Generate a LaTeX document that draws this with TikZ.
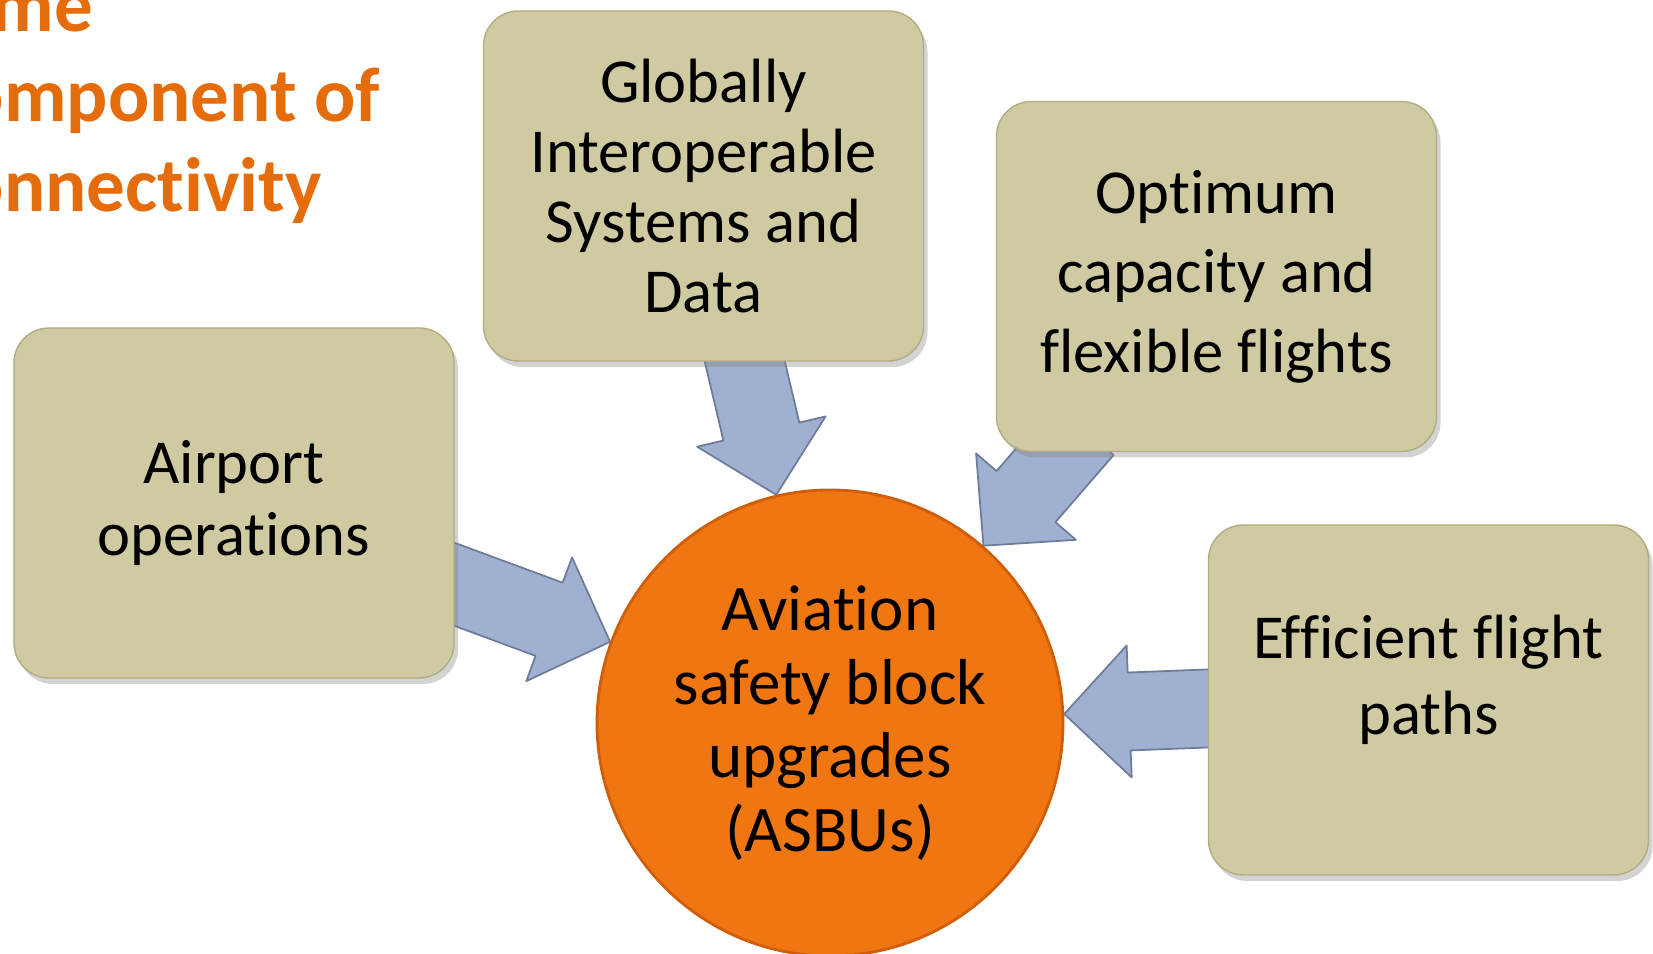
\documentclass[tikz,border=0pt]{standalone}
\usepackage{fontspec}
\setmainfont[Ligatures=NoCommon]{Carlito}
\usetikzlibrary{positioning, calc, shadows, backgrounds}
\definecolor{boxtan}{RGB}{207,202,162}
\definecolor{boxedge}{RGB}{178,172,130}
\definecolor{asbuorange}{RGB}{240,118,18}
\definecolor{asbuedge}{RGB}{208,94,8}
\definecolor{arrowblue}{RGB}{160,176,208}
\definecolor{arrowedge}{RGB}{110,124,155}
\definecolor{titleorange}{RGB}{228,108,10}
\tikzset{
         mybox/.style={draw=boxedge, fill=boxtan, rounded corners=0.35cm, minimum width=4.4cm, minimum height=3.5cm, align=center,
                       drop shadow={shadow xshift=0.04cm, shadow yshift=-0.06cm, opacity=0.35}},
         myhub/.style={circle, draw=asbuedge, line width=0.8pt, fill=asbuorange, minimum size=4.66cm, inner sep=0pt, align=center,
                       font=\fontsize{18.5pt}{20.9pt}\selectfont},
         mytitle/.style={anchor=base west, inner sep=0pt, text=titleorange, font=\fontsize{21.9pt}{25.6pt}\selectfont\bfseries},
         myarrow/.style={draw=arrowedge, fill=arrowblue, line width=0.5pt, line join=round}
      }
\newcommand{\blockarrow}[2]{%
  \coordinate (bs) at ($(#1)!-0.3cm!(#2)$);
  \coordinate (bh) at ($(#2)!0.65cm!(#1)$);
  \draw[myarrow] ($(bs)!0.39cm!90:(#2)$) -- ($(bh)!0.39cm!90:(#2)$) -- ($(bh)!0.66cm!90:(#2)$) -- (#2)
     -- ($(bh)!0.66cm!-90:(#2)$) -- ($(bh)!0.39cm!-90:(#2)$) -- ($(bs)!0.39cm!-90:(#2)$) -- cycle;
}

\begin{document}
\begin{tikzpicture}
   \useasboundingbox (0,0) rectangle (16.53,9.54);
   \clip (0,0) rectangle (16.53,9.54);

   % title, cut at the left edge
   \node[mytitle] (title1) at (-0.09,9.22) {me};
   \node[mytitle] (title2) at (-0.38,8.32) {omponent of};
   \node[mytitle] (title3) at (-0.38,7.42) {onnectivity};

   \node[mybox, font=\fontsize{17.8pt}{20.5pt}\selectfont] (airport) at (2.34,4.51) {Airport\\operations};
   \node[mybox, font=\fontsize{17.8pt}{19.9pt}\selectfont] (globally) at (7.035,7.68) {Globally\\Interoperable\\Systems and\\Data};
   \node[mybox, font=\fontsize{17.8pt}{22.6pt}\selectfont] (optimum) at (12.165,6.775) {Optimum\\capacity and\\flexible flights};
   \node[mybox] (efficient) at (14.285,2.54) {};
   \node[align=center, font=\fontsize{17.8pt}{21.6pt}\selectfont] (efficienttext) at ([yshift=0.2cm]efficient.center) {Efficient flight\\paths};

   \node[myhub] (asbu) at (8.30,2.31) {Aviation\\safety block\\upgrades\\(ASBUs)};

   \begin{scope}[on background layer]
      \path (airport) -- coordinate[pos=0] (a1s) coordinate[pos=1] (a1e) (asbu);
      \path (globally) -- coordinate[pos=0] (a2s) coordinate[pos=1] (a2e) (asbu);
      \path (optimum) -- coordinate[pos=0] (a3s) coordinate[pos=1] (a3e) (asbu);
      \path (efficient) -- coordinate[pos=0] (a4s) coordinate[pos=1] (a4e) (asbu);
      \blockarrow{a1s}{a1e}
      \blockarrow{a2s}{a2e}
      \blockarrow{a3s}{a3e}
      \blockarrow{a4s}{a4e}
   \end{scope}

\end{tikzpicture}
\end{document}
